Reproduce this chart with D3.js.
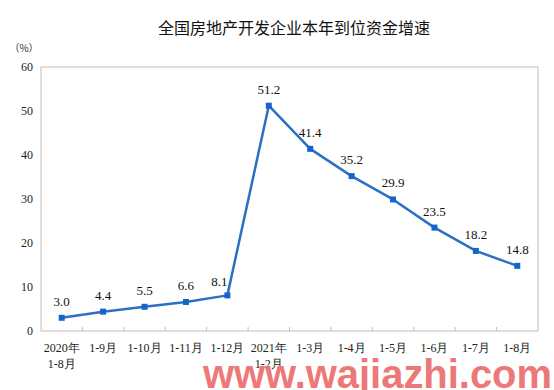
<!DOCTYPE html>
<html>
<head>
<meta charset="utf-8">
<script src="https://cdn.jsdelivr.net/npm/d3@7"></script>
<style>
  body { margin: 0; background: #fff; }
</style>
</head>
<body>
<div id="chart"></div>
<script>
var categories = ['2020年\n1-8月', '1-9月', '1-10月', '1-11月', '1-12月', '2021年\n1-2月',
    '1-3月', '1-4月', '1-5月', '1-6月', '1-7月', '1-8月'];
var values = [3.0, 4.4, 5.5, 6.6, 8.1, 51.2, 41.4, 35.2, 29.9, 23.5, 18.2, 14.8];
var yTicks = [0, 10, 20, 30, 40, 50, 60];

var WIDTH = 554, HEIGHT = 390;
var margin = { left: 41, right: 16, top: 67, bottom: 59 };
var SERIF = '"Liberation Serif", "Times New Roman", serif';
var CJK = '"Noto Sans CJK SC", sans-serif';
var LINE_COLOR = '#2b70c4';

var svg = d3.select('#chart').append('svg')
    .attr('width', WIDTH)
    .attr('height', HEIGHT);

var x = d3.scaleBand()
    .domain(categories)
    .range([margin.left, WIDTH - margin.right]);

var y = d3.scaleLinear()
    .domain([0, 60])
    .range([HEIGHT - margin.bottom, margin.top]);

// title
svg.append('text')
    .attr('x', 294)
    .attr('y', 34)
    .attr('text-anchor', 'middle')
    .style('font-family', CJK)
    .style('font-size', '16px')
    .style('fill', '#111')
    .text('全国房地产开发企业本年到位资金增速');

svg.append('text')
    .attr('x', 24)
    .attr('y', 52)
    .attr('text-anchor', 'middle')
    .style('font-family', CJK)
    .style('font-size', '10px')
    .style('fill', '#333')
    .text('（%）');

// plot frame
svg.append('rect')
    .attr('x', margin.left)
    .attr('y', margin.top)
    .attr('width', WIDTH - margin.left - margin.right)
    .attr('height', HEIGHT - margin.top - margin.bottom)
    .style('fill', 'none')
    .style('stroke', '#bfbfbf')
    .style('stroke-width', 1);

// y labels
svg.selectAll('.ylab')
    .data(yTicks)
    .enter()
    .append('text')
    .attr('class', 'ylab')
    .attr('x', 33)
    .attr('y', (d) => y(d))
    .attr('dy', '0.35em')
    .attr('text-anchor', 'end')
    .style('font-family', SERIF)
    .style('font-size', '12px')
    .style('fill', '#222')
    .text((d) => d);

// x tick marks between categories (pointing up into the plot)
svg.selectAll('.xtick')
    .data(categories.slice(1))
    .enter()
    .append('line')
    .attr('x1', (d) => x(d))
    .attr('x2', (d) => x(d))
    .attr('y1', y(0))
    .attr('y2', y(0) - 4)
    .style('stroke', '#bfbfbf');

// x labels
var xlab = svg.selectAll('.xlab')
    .data(categories)
    .enter()
    .append('text')
    .attr('class', 'xlab')
    .attr('x', (d) => x(d) + x.bandwidth() / 2)
    .attr('y', 352)
    .attr('text-anchor', 'middle')
    .style('font-family', SERIF)
    .style('font-size', '12px')
    .style('fill', '#222');

xlab.selectAll('tspan')
    .data((d) => d.split('\n'))
    .enter()
    .append('tspan')
    .attr('x', function () { return d3.select(this.parentNode).attr('x'); })
    .attr('dy', (d, i) => i === 0 ? 0 : 16)
    .text((d) => d);

// line
var pts = categories.map((c, i) => [x(c) + x.bandwidth() / 2, y(values[i])]);

svg.append('path')
    .datum(pts)
    .attr('d', d3.line())
    .style('fill', 'none')
    .style('stroke', LINE_COLOR)
    .style('stroke-width', 2.5)
    .style('stroke-linejoin', 'round');

svg.selectAll('.marker')
    .data(pts)
    .enter()
    .append('rect')
    .attr('class', 'marker')
    .attr('x', (d) => d[0] - 3)
    .attr('y', (d) => d[1] - 3)
    .attr('width', 6)
    .attr('height', 6)
    .style('fill', '#1565c8');

// value labels ("8.1" sits a bit left so it clears the rising line)
svg.selectAll('.vlab')
    .data(values)
    .enter()
    .append('text')
    .attr('class', 'vlab')
    .attr('x', (d, i) => pts[i][0] + (i === 4 ? -8 : 0))
    .attr('y', (d, i) => pts[i][1] - (i === 4 ? 9 : 12))
    .attr('text-anchor', 'middle')
    .style('font-family', SERIF)
    .style('font-size', '13px')
    .style('fill', '#111')
    .text((d) => d.toFixed(1));

// watermark
svg.append('text')
    .attr('x', 203)
    .attr('y', 388)
    .attr('textLength', 349)
    .attr('lengthAdjust', 'spacingAndGlyphs')
    .style('font-family', '"Liberation Sans", Arial, sans-serif')
    .style('font-weight', 'bold')
    .style('font-size', '40px')
    .style('fill', '#ec7878')
    .text('www.wajiazhi.com');
</script>
</body>
</html>
